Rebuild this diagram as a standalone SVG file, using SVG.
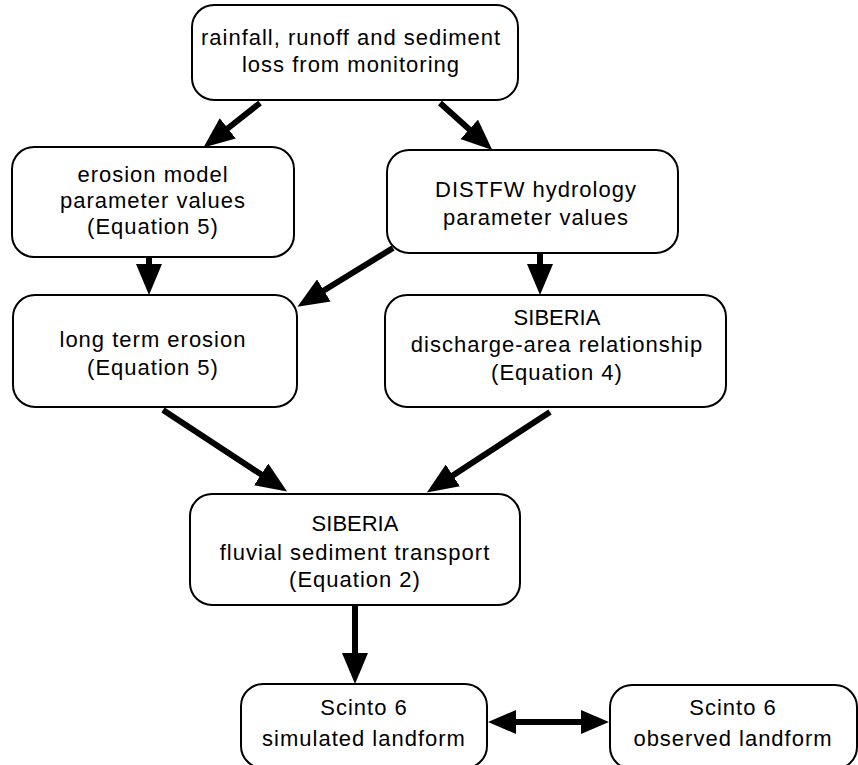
<svg xmlns="http://www.w3.org/2000/svg" width="858" height="765" viewBox="0 0 858 765">
  <style>
    .box { fill: #ffffff; stroke: #000000; stroke-width: 2; }
    .lbl { font-family: "Liberation Sans", Arial, Helvetica, sans-serif; font-size: 22px; letter-spacing: 1px; fill: #000000; text-anchor: middle; }
    .tight { letter-spacing: 0px; }
    .conn { stroke: #000000; stroke-width: 6; fill: none; }
  </style>
  <defs>
    <marker id="ah" markerUnits="userSpaceOnUse" markerWidth="32" markerHeight="26" refX="1" refY="13" orient="auto-start-reverse">
      <path d="M0,0 L31,13 L0,26 Z" fill="#000000"/>
    </marker>
    <marker id="ahs" markerUnits="userSpaceOnUse" markerWidth="30" markerHeight="24" refX="1" refY="12" orient="auto-start-reverse">
      <path d="M0,0 L28,12 L0,24 Z" fill="#000000"/>
    </marker>
  </defs>
  <rect width="858" height="765" fill="#ffffff"/>

  <g id="connectors">
    <line class="conn" x1="260" y1="103" x2="227" y2="129" marker-end="url(#ah)"/>
    <line class="conn" x1="440" y1="103" x2="470" y2="130" marker-end="url(#ah)"/>
    <line class="conn" x1="149" y1="257" x2="149" y2="265" marker-end="url(#ah)"/>
    <line class="conn" x1="393" y1="248" x2="323" y2="291" marker-end="url(#ah)"/>
    <line class="conn" x1="540" y1="253" x2="540" y2="265" marker-end="url(#ah)"/>
    <line class="conn" x1="163" y1="410" x2="262" y2="475" marker-end="url(#ah)"/>
    <line class="conn" x1="550" y1="412" x2="452" y2="476" marker-end="url(#ah)"/>
    <line class="conn" x1="355" y1="606" x2="355" y2="654" marker-end="url(#ah)"/>
    <line class="conn" x1="515" y1="722" x2="582" y2="722" marker-start="url(#ahs)" marker-end="url(#ahs)"/>
  </g>

  <g id="n-monitoring">
    <rect class="box" x="192" y="5" width="326" height="95" rx="22" ry="22"/>
    <text class="lbl" x="351" y="45">rainfall, runoff and sediment</text>
    <text class="lbl" x="351" y="72">loss from monitoring</text>
  </g>

  <g id="n-erosion-params">
    <rect class="box" x="12" y="147" width="282" height="110" rx="22" ry="22"/>
    <text class="lbl" x="153" y="182">erosion model</text>
    <text class="lbl" x="153" y="208">parameter values</text>
    <text class="lbl" x="153" y="234">(Equation 5)</text>
  </g>

  <g id="n-distfw">
    <rect class="box" x="387" y="150" width="291" height="103" rx="22" ry="22"/>
    <text class="lbl" x="536" y="197">DISTFW hydrology</text>
    <text class="lbl" x="536" y="225">parameter values</text>
  </g>

  <g id="n-longterm">
    <rect class="box" x="13" y="295" width="284" height="112" rx="22" ry="22"/>
    <text class="lbl" x="153" y="347">long term erosion</text>
    <text class="lbl" x="153" y="375">(Equation 5)</text>
  </g>

  <g id="n-discharge">
    <rect class="box" x="385" y="295" width="341" height="112" rx="22" ry="22"/>
    <text class="lbl tight" x="557" y="325">SIBERIA</text>
    <text class="lbl" x="557" y="352">discharge-area relationship</text>
    <text class="lbl" x="557" y="380">(Equation 4)</text>
  </g>

  <g id="n-fluvial">
    <rect class="box" x="190" y="494" width="330" height="111" rx="22" ry="22"/>
    <text class="lbl tight" x="355" y="531">SIBERIA</text>
    <text class="lbl" x="355" y="560">fluvial sediment transport</text>
    <text class="lbl" x="355" y="587">(Equation 2)</text>
  </g>

  <g id="n-simulated">
    <rect class="box" x="241" y="684" width="246" height="84" rx="22" ry="22"/>
    <text class="lbl" x="364" y="715">Scinto 6</text>
    <text class="lbl" x="364" y="746">simulated landform</text>
  </g>

  <g id="n-observed">
    <rect class="box" x="610" y="685" width="247" height="84" rx="22" ry="22"/>
    <text class="lbl" x="733" y="715">Scinto 6</text>
    <text class="lbl" x="733" y="746">observed landform</text>
  </g>
</svg>
